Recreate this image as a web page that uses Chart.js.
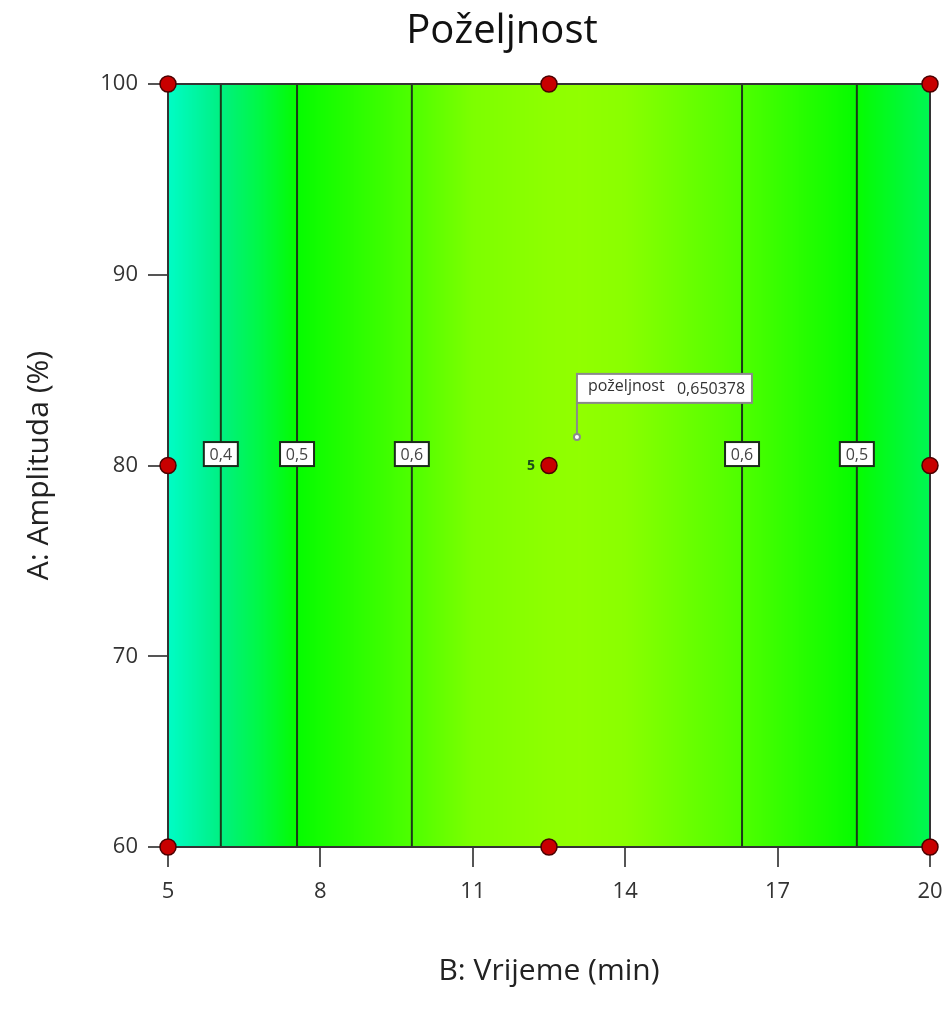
<!DOCTYPE html>
<html>
<head>
<meta charset="utf-8">
<script src="https://cdn.jsdelivr.net/npm/chart.js@4/dist/chart.umd.min.js"></script>
<style>
  html, body { margin: 0; padding: 0; background: #fff; }
  #wrap { width: 947px; height: 1015px; }
</style>
</head>
<body>
<div id="wrap"><canvas id="c"></canvas></div>
<script>
// design points (B: time, A: amplitude)
const designB = [5, 12.5, 20, 5, 12.5, 20, 5, 12.5, 20];
const designA = [100, 100, 100, 80, 80, 80, 60, 60, 60];
const centerRuns = "5";

// contour lines of desirability (vertical, depend on B only)
const contourLevels = ["0,4", "0,5", "0,6", "0,6", "0,5"];
const contourB = [6.04, 7.54, 9.80, 16.30, 18.56];
const contourLabelA = 80.6;

// desirability along B
const profileB = [5, 6.04, 7.54, 9.8, 11, 12.5, 13.1, 14, 16.3, 18.56, 20];
const profileD = [0.32, 0.4, 0.5, 0.6, 0.635, 0.648, 0.650, 0.645, 0.6, 0.5, 0.44];

// flag point
const flagB = 13.05, flagA = 81.5;
const flagName = "poželjnost", flagValue = "0,650378";

const xTicks = [5, 8, 11, 14, 17, 20];
const yTicks = [60, 70, 80, 90, 100];

const FONT = "'Open Sans', 'Noto Sans', sans-serif";

const colorStops = [
    [0.30, [0, 255, 215]],
    [0.40, [0, 240, 130]],
    [0.45, [0, 248, 70]],
    [0.50, [5, 252, 0]],
    [0.60, [78, 255, 0]],
    [0.66, [158, 255, 0]],
];

const colorFor = (d) => {
    if (d <= colorStops[0][0]) return colorStops[0][1];
    for (let i = 1; i < colorStops.length; i++) {
        const [d1, c1] = colorStops[i];
        const [d0, c0] = colorStops[i - 1];
        if (d <= d1) {
            const t = (d - d0) / (d1 - d0);
            return c0.map((v, k) => Math.round(v + (c1[k] - v) * t));
        }
    }
    return colorStops[colorStops.length - 1][1];
};

const desirAt = (b) => {
    for (let i = 1; i < profileB.length; i++) {
        if (b <= profileB[i]) {
            const t = (b - profileB[i - 1]) / (profileB[i] - profileB[i - 1]);
            return profileD[i - 1] + (profileD[i] - profileD[i - 1]) * t;
        }
    }
    return profileD[profileD.length - 1];
};

const shading = {
    id: "shading",
    beforeDatasetsDraw(chart) {
        const { ctx, chartArea: a, scales: { x, y } } = chart;
        ctx.save();
        for (let px = Math.floor(a.left); px < a.right; px++) {
            const c = colorFor(desirAt(x.getValueForPixel(px + 0.5)));
            ctx.fillStyle = `rgb(${c[0]},${c[1]},${c[2]})`;
            ctx.fillRect(px, a.top, 1.2, a.bottom - a.top);
        }
        // contour lines
        ctx.strokeStyle = "#1a3a1a";
        ctx.lineWidth = 2;
        contourB.forEach((b) => {
            const px = x.getPixelForValue(b);
            ctx.beginPath();
            ctx.moveTo(px, a.top);
            ctx.lineTo(px, a.bottom);
            ctx.stroke();
        });
        // frame
        ctx.strokeStyle = "#333";
        ctx.lineWidth = 2;
        ctx.strokeRect(a.left, a.top, a.right - a.left, a.bottom - a.top);
        // contour labels
        ctx.font = `16px ${FONT}`;
        ctx.textAlign = "center";
        ctx.textBaseline = "middle";
        contourB.forEach((b, i) => {
            const px = x.getPixelForValue(b);
            const py = y.getPixelForValue(contourLabelA);
            ctx.fillStyle = "#fff";
            ctx.fillRect(px - 17, py - 12, 34, 24);
            ctx.strokeStyle = "#1a2a1a";
            ctx.lineWidth = 2;
            ctx.strokeRect(px - 17, py - 12, 34, 24);
            ctx.fillStyle = "#444";
            ctx.fillText(contourLevels[i], px, py + 1);
        });
        // flag
        const fx = x.getPixelForValue(flagB);
        const fy = y.getPixelForValue(flagA);
        ctx.strokeStyle = "#8a8a8a";
        ctx.lineWidth = 2;
        ctx.beginPath();
        ctx.moveTo(fx, fy);
        ctx.lineTo(fx, fy - 34);
        ctx.stroke();
        ctx.fillStyle = "#fff";
        ctx.beginPath();
        ctx.arc(fx, fy, 3, 0, Math.PI * 2);
        ctx.fill();
        ctx.stroke();
        const bx = fx, by = fy - 63;
        ctx.fillStyle = "#fff";
        ctx.fillRect(bx, by, 175, 29);
        ctx.strokeRect(bx, by, 175, 29);
        ctx.font = `16px ${FONT}`;
        ctx.textAlign = "left";
        ctx.fillStyle = "#333";
        ctx.fillText(flagName, bx + 11, by + 13);
        ctx.fillText(flagValue, bx + 100, by + 16);
        ctx.restore();
    },
    afterDatasetsDraw(chart) {
        const { ctx, scales: { x, y } } = chart;
        ctx.save();
        ctx.font = `bold 14px ${FONT}`;
        ctx.fillStyle = "#1b4d1b";
        ctx.textAlign = "right";
        ctx.textBaseline = "middle";
        ctx.fillText(centerRuns, x.getPixelForValue(12.5) - 14, y.getPixelForValue(80) + 1);
        // chart title
        ctx.font = `40px ${FONT}`;
        ctx.fillStyle = "#111";
        ctx.textAlign = "center";
        ctx.fillText("Poželjnost", 502, 32);
        ctx.restore();
    },
};

new Chart(document.getElementById("c"), {
    type: "scatter",
    data: {
        datasets: [
            {
                label: "design",
                data: designB.map((b, i) => ({ x: b, y: designA[i] })),
                pointRadius: 8,
                pointBackgroundColor: "#c80000",
                pointBorderColor: "#4a0000",
                pointBorderWidth: 1.5,
                clip: false,
            },
        ],
    },
    options: {
        responsive: true,
        maintainAspectRatio: false,
        animation: false,
        layout: { padding: { top: 84, right: 17, bottom: 0, left: 0 } },
        plugins: {
            legend: { display: false },
            tooltip: { enabled: false },
            title: { display: false },
        },
        scales: {
            x: {
                type: "linear",
                min: 5,
                max: 20,
                afterBuildTicks: (s) => { s.ticks = xTicks.map((v) => ({ value: v })); },
                afterFit: (s) => { s.height = 168; s.paddingLeft = 0; s.paddingRight = 0; },
                grid: { drawOnChartArea: false, drawTicks: true, tickLength: 20, color: "#555", lineWidth: 2 },
                border: { display: false },
                ticks: { color: "#333", padding: 12, font: { family: FONT, size: 22 } },
                title: {
                    display: true,
                    text: "B: Vrijeme (min)",
                    color: "#222",
                    font: { family: FONT, size: 30 },
                    padding: { top: 0, bottom: 26 },
                },
            },
            y: {
                type: "linear",
                min: 60,
                max: 100,
                afterBuildTicks: (s) => { s.ticks = yTicks.map((v) => ({ value: v })); },
                afterFit: (s) => { s.width = 168; s.paddingTop = 0; s.paddingBottom = 0; },
                grid: { drawOnChartArea: false, drawTicks: true, tickLength: 20, color: "#555", lineWidth: 2 },
                border: { display: false },
                ticks: { color: "#333", padding: 10, font: { family: FONT, size: 22 } },
                title: {
                    display: true,
                    text: "A: Amplituda (%)",
                    color: "#222",
                    font: { family: FONT, size: 30 },
                    padding: { top: 21, bottom: 0 },
                },
            },
        },
    },
    plugins: [shading],
});
</script>
</body>
</html>
